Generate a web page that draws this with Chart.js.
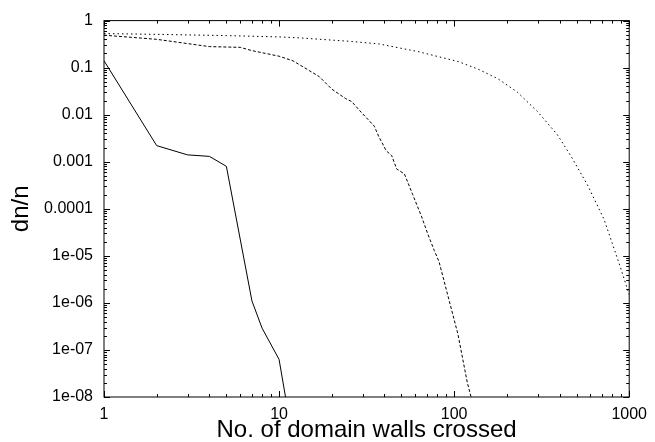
<!DOCTYPE html>
<html>
<head>
<meta charset="utf-8">
<script src="https://cdn.jsdelivr.net/npm/chart.js@4.4.0/dist/chart.umd.min.js"></script>
<style>
  body { margin: 0; background: #fff; }
  #wrap { width: 655px; height: 442px; }
</style>
</head>
<body>
<div id="wrap"><canvas id="chart" width="655" height="442"></canvas></div>
<script>
// Data (log-log)
const solidX = [1, 2, 3, 4, 5, 7, 8, 10, 11];
const solidY = [0.14, 0.0022, 0.0014, 0.0013, 0.0008, 1.1e-6, 2.9e-7, 6.3e-8, 8e-9];

const dashedX = [1, 2, 4, 6, 7, 10, 12, 15, 17, 20, 24, 26, 29, 35, 37, 41, 44, 47, 52, 58, 65, 71, 77, 82, 105, 119, 127];
const dashedY = [0.49, 0.40, 0.28, 0.27, 0.23, 0.175, 0.14, 0.085, 0.064, 0.035, 0.022, 0.019, 0.012,
  0.0057, 0.0035, 0.0017, 0.00135, 7e-4, 5.5e-4, 2e-4, 7e-5, 2.8e-5, 1.3e-5, 7.5e-6, 2.2e-7, 2e-8, 8e-9];

const dottedX = [1, 2, 5, 10, 13, 26, 37, 62, 106, 137, 178, 230, 299, 388, 463, 578, 718, 887, 1000];
const dottedY = [0.53, 0.51, 0.48, 0.45, 0.43, 0.36, 0.32, 0.22, 0.134, 0.093, 0.058, 0.030, 0.0117,
  0.0038, 0.00135, 3.2e-4, 6e-5, 6e-6, 1.5e-6];

const xTicks = [1, 10, 100, 1000];
const xTickLabels = ['1', '10', '100', '1000'];
const yTicks = [1, 0.1, 0.01, 0.001, 0.0001, 1e-5, 1e-6, 1e-7, 1e-8];
const yTickLabels = ['1', '0.1', '0.01', '0.001', '0.0001', '1e-05', '1e-06', '1e-07', '1e-08'];

const toPoints = (xs, ys) => xs.map((x, i) => ({ x: x, y: ys[i] }));

// gnuplot style frame with inward major/minor ticks on all four sides
const frame = {
  id: 'frame',
  afterDraw(chart) {
    const { ctx, chartArea: a, scales: { x, y } } = chart;
    ctx.save();
    ctx.strokeStyle = '#000';
    ctx.lineWidth = 1;
    ctx.strokeRect(a.left, a.top, a.right - a.left, a.bottom - a.top);
    ctx.beginPath();
    // x ticks
    for (let d = 1; d <= 1000; d *= 10) {
      for (let m = 1; m <= 9; m++) {
        const v = d * m;
        if (v > 1000) break;
        const px = Math.round(x.getPixelForValue(v)) + 0.5;
        const len = m === 1 ? 6 : 3;
        ctx.moveTo(px, a.bottom); ctx.lineTo(px, a.bottom - len);
        ctx.moveTo(px, a.top); ctx.lineTo(px, a.top + len);
      }
    }
    // y ticks
    for (let e = -8; e <= 0; e++) {
      for (let m = 1; m <= 9; m++) {
        const v = m * Math.pow(10, e);
        if (v > 1) break;
        const py = Math.round(y.getPixelForValue(v)) + 0.5;
        const len = m === 1 ? 6 : 3;
        ctx.moveTo(a.left, py); ctx.lineTo(a.left + len, py);
        ctx.moveTo(a.right, py); ctx.lineTo(a.right - len, py);
      }
    }
    ctx.stroke();
    ctx.restore();
  }
};

const font = '"Liberation Sans", Arial, Helvetica, sans-serif';

new Chart(document.getElementById('chart'), {
  type: 'line',
  data: {
    datasets: [
      { data: toPoints(solidX, solidY), borderColor: '#000', borderWidth: 1 },
      { data: toPoints(dashedX, dashedY), borderColor: '#000', borderWidth: 1, borderDash: [3, 2] },
      { data: toPoints(dottedX, dottedY), borderColor: '#000', borderWidth: 1, borderDash: [1.5, 3] }
    ]
  },
  options: {
    responsive: false,
    animation: false,
    events: [],
    elements: { point: { radius: 0 }, line: { tension: 0 } },
    layout: { padding: { top: 12, right: 23, left: 0, bottom: 0 } },
    plugins: { legend: { display: false }, tooltip: { enabled: false } },
    scales: {
      x: {
        type: 'logarithmic',
        min: 1,
        max: 1000,
        afterFit: s => { s.height = 45; },
        afterBuildTicks: s => { s.ticks = xTicks.map(v => ({ value: v })); },
        grid: { display: false, drawTicks: false },
        border: { display: false },
        ticks: {
          color: '#000',
          padding: 8,
          maxRotation: 0,
          autoSkip: false,
          font: { family: font, size: 16 },
          callback: (v) => xTickLabels[xTicks.indexOf(v)]
        },
        title: {
          display: true,
          text: 'No. of domain walls crossed',
          color: '#000',
          font: { family: font, size: 24, lineHeight: 1 },
          padding: { top: 0, bottom: 0 }
        }
      },
      y: {
        type: 'logarithmic',
        min: 1e-8,
        max: 1,
        afterFit: s => { s.width = 104; },
        afterBuildTicks: s => { s.ticks = yTicks.map(v => ({ value: v })); },
        grid: { display: false, drawTicks: false },
        border: { display: false },
        ticks: {
          color: '#000',
          padding: 11,
          autoSkip: false,
          font: { family: font, size: 16 },
          callback: (v) => yTickLabels[yTicks.indexOf(v)]
        },
        title: {
          display: true,
          text: 'dn/n',
          color: '#000',
          font: { family: font, size: 24, lineHeight: 1 },
          padding: { top: 9, bottom: 0 }
        }
      }
    }
  },
  plugins: [frame]
});
</script>
</body>
</html>
